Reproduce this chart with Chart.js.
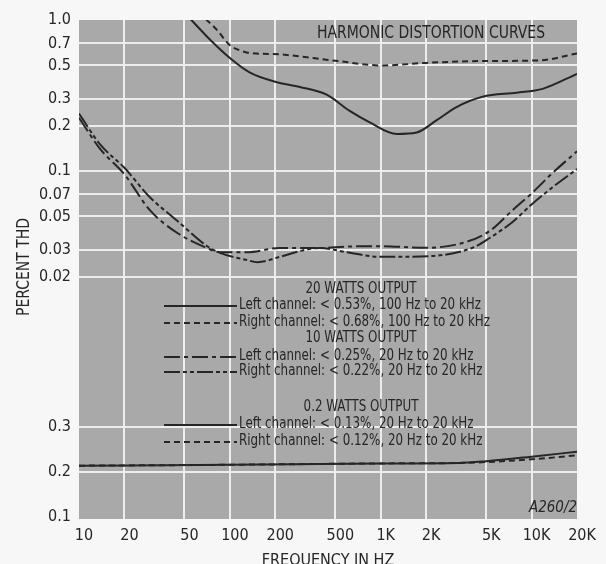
<!DOCTYPE html>
<html>
<head>
<meta charset="utf-8">
<script src="https://cdn.jsdelivr.net/npm/chart.js@4.4.1/dist/chart.umd.min.js"></script>
<style>
  html, body { margin: 0; padding: 0; background: #f7f7f7; overflow: hidden; }
  #wrap { position: relative; width: 606px; height: 570px; }
</style>
</head>
<body>
<div id="wrap"><canvas id="thd"></canvas></div>
<script>
// Harmonic distortion curves — log frequency vs percent THD.
// Two stacked y axes: log scale (20 W / 10 W curves) above, linear scale (0.2 W) below.

const freqTicks = [10, 20, 50, 100, 200, 500, 1000, 2000, 5000, 10000, 20000];
const freqLabels = ['10', '20', '50', '100', '200', '500', '1K', '2K', '5K', '10K', '20K'];
const thdTopTicks = [1.0, 0.7, 0.5, 0.3, 0.2, 0.1, 0.07, 0.05, 0.03, 0.02];
const thdBottomTicks = [0.1, 0.2, 0.3];

// 20 watts output
const left20Freq = [50, 74, 100, 135, 200, 291, 438, 623, 845, 1276, 1730, 2350, 3180, 4730, 7950, 11830, 20000];
const left20 = [1.12, 0.74, 0.56, 0.45, 0.39, 0.36, 0.32, 0.25, 0.21, 0.176, 0.18, 0.217, 0.265, 0.31, 0.33, 0.35, 0.44];
const right20Freq = [62, 82, 100, 116, 129, 224, 481, 1030, 2000, 4730, 11200, 20000];
const right20 = [1.12, 0.86, 0.68, 0.63, 0.61, 0.59, 0.54, 0.5, 0.52, 0.535, 0.54, 0.6];

// 10 watts output
const left10Freq = [10, 13.8, 20, 29.5, 44.6, 70, 86, 130, 214, 394, 596, 985, 2000, 3720, 5270, 7480, 10000, 13770, 20000];
const left10 = [0.225, 0.14, 0.095, 0.055, 0.039, 0.031, 0.029, 0.029, 0.0309, 0.0309, 0.0316, 0.0318, 0.031, 0.034, 0.04, 0.055, 0.071, 0.097, 0.135];
const right10Freq = [10, 13.8, 20, 29.5, 44.6, 70, 86, 130, 153, 214, 300, 394, 596, 985, 2100, 4060, 5270, 7480, 10000, 13770, 20000];
const right10 = [0.24, 0.15, 0.105, 0.067, 0.047, 0.032, 0.0287, 0.0257, 0.0249, 0.027, 0.0297, 0.0309, 0.029, 0.027, 0.0273, 0.031, 0.036, 0.046, 0.06, 0.078, 0.103];

// 0.2 watts output
const left02Freq = [10, 100, 1000, 3300, 5000, 10000, 20000];
const left02 = [0.214, 0.216, 0.219, 0.22, 0.224, 0.234, 0.245];
const right02Freq = [10, 100, 1000, 3300, 5000, 10000, 20000];
const right02 = [0.214, 0.216, 0.219, 0.22, 0.222, 0.228, 0.237];

const legendHeads = ['20 WATTS OUTPUT', '10 WATTS OUTPUT', '0.2 WATTS OUTPUT'];
const legendItems = [
  'Left channel: < 0.53%, 100 Hz to 20 kHz',
  'Right channel: < 0.68%, 100 Hz to 20 kHz',
  'Left channel: < 0.25%, 20 Hz to 20 kHz',
  'Right channel: < 0.22%, 20 Hz to 20 kHz',
  'Left channel: < 0.13%, 20 Hz to 20 kHz',
  'Right channel: < 0.12%, 20 Hz to 20 kHz',
];

const INK = '#262626';
const PAPER = '#a9a9a9';
const GRID = '#ededed';
const FONT = "'DejaVu Sans Condensed', 'Liberation Sans Narrow', sans-serif";

const pts = (fs, vs) => fs.map((f, i) => ({ x: f, y: vs[i] }));
const line = (data, axis, dash) => ({
  data, yAxisID: axis, borderColor: INK, borderWidth: 2, borderDash: dash,
  pointRadius: 0, fill: false, cubicInterpolationMode: 'monotone',
});

const datasets = [
  line(pts(left20Freq, left20), 'yTop', []),
  line(pts(right20Freq, right20), 'yTop', [6, 4]),
  line(pts(left10Freq, left10), 'yTop', [16, 4, 4, 4]),
  line(pts(right10Freq, right10), 'yTop', [16, 3, 4, 3, 4, 3]),
  line(pts(left02Freq, left02), 'yBot', []),
  line(pts(right02Freq, right02), 'yBot', [6, 4]),
];

// gray paper under the plot
const paper = {
  id: 'paper',
  beforeDraw(chart) {
    const { ctx, chartArea: a } = chart;
    ctx.save();
    ctx.fillStyle = PAPER;
    ctx.fillRect(a.left, a.top, a.right - a.left, a.bottom - a.top);
    ctx.restore();
  },
};

// squeeze a string horizontally so it spans the given width (the original type is condensed)
function squeezed(ctx, text, x, y, k, align) {
  const w = ctx.measureText(text).width * k;
  const left = align === 'center' ? x - w / 2 : align === 'right' ? x - w : x;
  ctx.save();
  ctx.translate(left, y);
  ctx.scale(k, 1);
  ctx.textAlign = 'left';
  ctx.fillText(text, 0, 0);
  ctx.restore();
}

// captions, y title and the in-plot key
const captions = {
  id: 'captions',
  afterDraw(chart) {
    const { ctx } = chart;
    const ds = chart.data.datasets;
    ctx.save();
    ctx.fillStyle = INK;
    ctx.strokeStyle = INK;
    ctx.textBaseline = 'middle';

    ctx.font = `18px ${FONT}`;
    let k = 228 / ctx.measureText('HARMONIC DISTORTION CURVES').width;
    squeezed(ctx, 'HARMONIC DISTORTION CURVES', 431, 33, k, 'center');

    ctx.save();
    ctx.translate(24, 267);
    ctx.rotate(-Math.PI / 2);
    ctx.font = `18px ${FONT}`;
    k = 98 / ctx.measureText('PERCENT THD').width;
    squeezed(ctx, 'PERCENT THD', 0, 0, k, 'center');
    ctx.restore();

    ctx.font = `italic 15px ${FONT}`;
    k = 48 / ctx.measureText('A260/2').width;
    squeezed(ctx, 'A260/2', 577, 508, k, 'right');

    const headY = [289, 338, 407];
    const itemY = [305, 322, 356, 371, 424, 441];
    ctx.font = `16px ${FONT}`;
    k = 242 / ctx.measureText(legendItems[0]).width;
    legendHeads.forEach((t, i) => squeezed(ctx, t, 361, headY[i], k, 'center'));
    legendItems.forEach((t, i) => {
      squeezed(ctx, t, 239, itemY[i], k, 'left');
      ctx.beginPath();
      ctx.lineWidth = 2;
      ctx.setLineDash(ds[i].borderDash);
      ctx.moveTo(164, itemY[i] + 1);
      ctx.lineTo(237, itemY[i] + 1);
      ctx.stroke();
      ctx.setLineDash([]);
    });
    ctx.restore();
  },
};

const edgeless = (edges) => (c) => (c.tick && edges.includes(c.tick.value)) ? 'rgba(0,0,0,0)' : GRID;
const tickFont = { family: FONT, size: 16 };

new Chart(document.getElementById('thd'), {
  type: 'line',
  data: { datasets },
  options: {
    responsive: true,
    maintainAspectRatio: false,
    animation: false,
    devicePixelRatio: 1,
    layout: { padding: { left: 0, right: 29, top: 20, bottom: 0 } },
    plugins: { legend: { display: false }, tooltip: { enabled: false } },
    scales: {
      x: {
        type: 'logarithmic', min: 10, max: 20000,
        afterBuildTicks: (s) => { s.ticks = freqTicks.map((v) => ({ value: v })); },
        afterFit: (s) => { s.height = 51; },
        border: { display: false },
        grid: { color: edgeless([10, 20000]), lineWidth: 2, drawTicks: false },
        ticks: {
          color: INK, font: tickFont, padding: 7, labelOffset: 5, maxRotation: 0, autoSkip: false,
          callback: (v, i) => freqLabels[i],
        },
        title: { display: true, text: 'FREQUENCY IN HZ', color: INK, font: { family: FONT, size: 16 }, padding: 0 },
      },
      yBot: {
        type: 'linear', position: 'left', stack: 'thd', stackWeight: 197,
        min: 0.0956, max: 0.533,
        afterBuildTicks: (s) => { s.ticks = thdBottomTicks.map((v) => ({ value: v })); },
        afterFit: (s) => { s.width = 79; },
        border: { display: false },
        grid: { color: edgeless([0.1]), lineWidth: 2, drawTicks: false },
        ticks: { color: INK, font: tickFont, padding: 8, autoSkip: false, callback: (v) => String(v) },
      },
      yTop: {
        type: 'logarithmic', position: 'left', stack: 'thd', stackWeight: 302,
        min: 0.01, max: 1.0,
        afterBuildTicks: (s) => { s.ticks = thdTopTicks.map((v) => ({ value: v })); },
        afterFit: (s) => { s.width = 79; },
        border: { display: false },
        grid: { color: edgeless([1.0]), lineWidth: 2, drawTicks: false },
        ticks: { color: INK, font: tickFont, padding: 8, autoSkip: false, callback: (v) => (v === 1 ? '1.0' : String(v)) },
      },
    },
  },
  plugins: [paper, captions],
});
</script>
</body>
</html>
